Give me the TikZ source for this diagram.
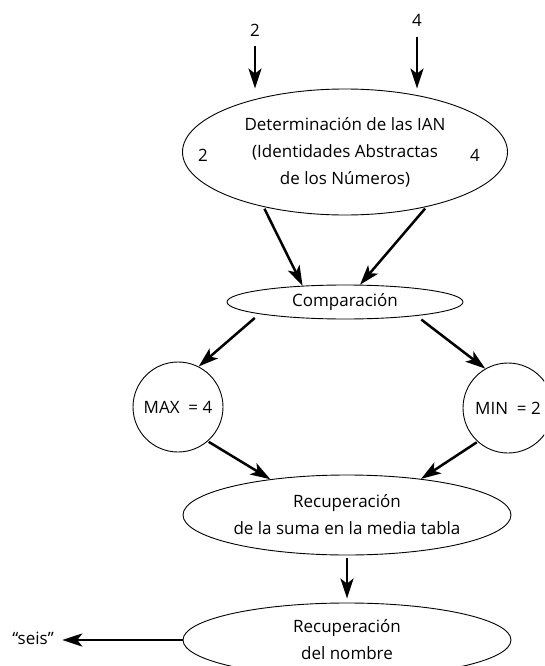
\documentclass[tikz,border=0pt]{standalone}
\usepackage{fontspec}
\setmainfont{Open Sans}
\usetikzlibrary{arrows.meta,calc}
\usetikzlibrary{positioning,shapes}
\tikzstyle{flow}=[-{Stealth[length=20pt,width=13pt,inset=5pt]}, line width=2.5pt]
\tikzstyle{oval}=[ellipse, draw, line width=0.9pt, inner sep=0pt, align=center]
\tikzstyle{ball}=[circle, draw, line width=0.9pt, minimum size=90pt, inner sep=0pt]

\begin{document}
\begin{tikzpicture}[x=1pt,y=-1pt,font=\fontsize{17}{27}\selectfont]
  \useasboundingbox (0,0) rectangle (544,666);
  \clip (0,0) rectangle (544,666);

  \coordinate (cian) at (345,152);
  \coordinate (ccomp) at (345,302);
  \coordinate (cmax) at (178,407);
  \coordinate (cmin) at (508,408);
  \coordinate (crec) at (347,515);
  \coordinate (cnom) at (347,640);

  % inputs
  \node (ina) at (255,30) {2};
  \node (inb) at (417,20) {4};

  % IAN
  \node[oval,minimum width=325pt,minimum height=126pt] (ian) at (cian)
  {Determinación de las IAN\\(Identidades Abstractas\\de los Números)};
  \node (iana) at ($(ian.west)+(21,3)$) {2};
  \node (ianb) at ($(ian.east)+(-33,3)$) {4};

  \node[oval,minimum width=236pt,minimum height=34pt] (comp) at (ccomp) {Comparación};

  \node[ball] (max) at (cmax) {MAX\ \ = 4};
  \node[ball] (min) at (cmin) {MIN\ \ = 2};

  \node[oval,minimum width=328pt,minimum height=80pt] (rec) at (crec)
  {Recuperación\\de la suma en la media tabla};
  \node[oval,minimum width=328pt,minimum height=74pt] (nom) at (cnom)
  {Recuperación\\del nombre};

  \node (seis) at (33,638) {“seis”};

  \draw[flow,shorten <=6pt] (ina.south) -- (ina.south |- ian.north);
  \draw[flow,shorten <=7pt] (inb.south) -- (inb.south |- ian.north);
  \draw[flow,shorten <=2pt] (ian.214) -- (comp.159);
  \draw[flow,shorten <=2pt] (ian.326) -- (comp.49);
  \draw[flow,shorten <=6pt] (comp.188) -- (max.63);
  \draw[flow,shorten <=6pt] (comp.349) -- (min.120);
  \draw[flow,shorten <=1pt] (max.311) -- (rec.155);
  \draw[flow,shorten <=1pt] (min.228) -- (rec.26);
  \draw[flow,shorten <=3pt,shorten >=4pt] (rec.south) -- (nom.north);
  \draw[flow,shorten >=5pt] (nom.west) -- (seis.east |- nom.west);
\end{tikzpicture}
\end{document}
